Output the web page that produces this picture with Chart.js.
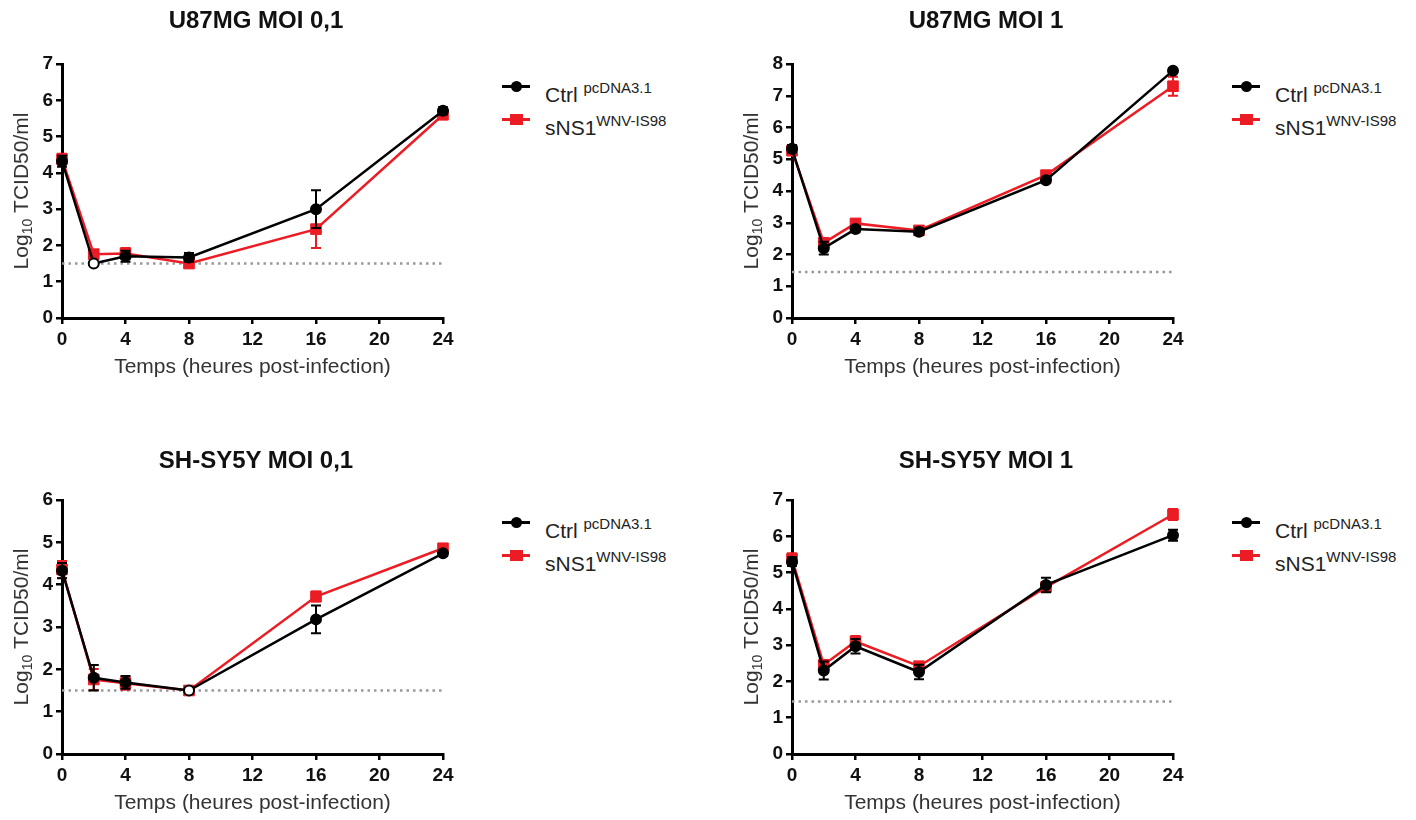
<!DOCTYPE html>
<html>
<head>
<meta charset="utf-8">
<script src="https://cdn.jsdelivr.net/npm/chart.js@4.4.1/dist/chart.umd.min.js"></script>
<style>
  body { margin: 0; background: #fff; font-family: "Liberation Sans", Arial, sans-serif; }
  #wrap { position: relative; width: 1416px; height: 820px; overflow: hidden; }
  canvas { position: absolute; }
  .ttl { position: absolute; width: 400px; text-align: center; font-weight: bold; font-size: 24px; line-height: 28px; color: #111; }
  .leg { position: absolute; font-size: 21px; color: #222; }
  .row { position: relative; height: 33px; line-height: 32px; padding-left: 43px; white-space: nowrap; }
  .row sup { font-size: 15px; position: relative; top: -1px; }
  .ln { position: absolute; left: 0; top: 11.5px; width: 28px; height: 3px; }
  .mk { position: absolute; left: 8.5px; top: 7.5px; width: 11px; height: 11px; }
  .blk .ln, .blk .mk { background: #000; }
  .blk .mk { border-radius: 50%; }
  .red .ln, .red .mk { background: #ec1c24; }
  .red .mk { left: 7.5px; width: 13px; height: 11px; }
</style>
</head>
<body>
<div id="wrap">
  <canvas id="c1" width="480" height="380" style="left:0;top:0"></canvas>
  <canvas id="c2" width="480" height="380" style="left:730px;top:0"></canvas>
  <canvas id="c3" width="480" height="380" style="left:0;top:436px"></canvas>
  <canvas id="c4" width="480" height="380" style="left:730px;top:436px"></canvas>

  <div class="ttl" style="left:56px;top:6px">U87MG MOI 0,1</div>
  <div class="ttl" style="left:786px;top:6px">U87MG MOI 1</div>
  <div class="ttl" style="left:56px;top:446px">SH-SY5Y MOI 0,1</div>
  <div class="ttl" style="left:786px;top:446px">SH-SY5Y MOI 1</div>

  <div class="leg" style="left:502px;top:73px">
    <div class="row blk"><span class="ln"></span><span class="mk"></span>Ctrl <sup>pcDNA3.1</sup></div>
    <div class="row red"><span class="ln"></span><span class="mk"></span>sNS1<sup>WNV-IS98</sup></div>
  </div>
  <div class="leg" style="left:1232px;top:73px">
    <div class="row blk"><span class="ln"></span><span class="mk"></span>Ctrl <sup>pcDNA3.1</sup></div>
    <div class="row red"><span class="ln"></span><span class="mk"></span>sNS1<sup>WNV-IS98</sup></div>
  </div>
  <div class="leg" style="left:502px;top:509px">
    <div class="row blk"><span class="ln"></span><span class="mk"></span>Ctrl <sup>pcDNA3.1</sup></div>
    <div class="row red"><span class="ln"></span><span class="mk"></span>sNS1<sup>WNV-IS98</sup></div>
  </div>
  <div class="leg" style="left:1232px;top:509px">
    <div class="row blk"><span class="ln"></span><span class="mk"></span>Ctrl <sup>pcDNA3.1</sup></div>
    <div class="row red"><span class="ln"></span><span class="mk"></span>sNS1<sup>WNV-IS98</sup></div>
  </div>
</div>

<script>
// hours post-infection
const hours = [0, 2, 4, 8, 16, 24];

// U87MG MOI 0,1
const u87Low_ctrl = [4.32, 1.5, 1.7, 1.67, 3.0, 5.71];
const u87Low_ctrlErr = [0.15, 0.03, 0.15, 0.12, 0.52, 0.1];
const u87Low_sns1 = [4.38, 1.76, 1.78, 1.5, 2.45, 5.6];
const u87Low_sns1Err = [0.15, 0.1, 0.15, 0.05, 0.52, 0.05];

// U87MG MOI 1
const u87High_ctrl = [5.33, 2.2, 2.8, 2.72, 4.34, 7.79];
const u87High_ctrlErr = [0.12, 0.2, 0.1, 0.1, 0.08, 0.05];
const u87High_sns1 = [5.27, 2.37, 2.98, 2.76, 4.5, 7.3];
const u87High_sns1Err = [0.12, 0.1, 0.1, 0.12, 0.08, 0.3];

// SH-SY5Y MOI 0,1
const shLow_ctrl = [4.33, 1.8, 1.69, 1.5, 3.18, 4.74];
const shLow_ctrlErr = [0.18, 0.3, 0.15, 0.05, 0.33, 0.05];
const shLow_sns1 = [4.36, 1.76, 1.67, 1.5, 3.72, 4.86];
const shLow_sns1Err = [0.2, 0.25, 0.15, 0.05, 0.12, 0.06];

// SH-SY5Y MOI 1
const shHigh_ctrl = [5.3, 2.3, 2.97, 2.26, 4.66, 6.03];
const shHigh_ctrlErr = [0.12, 0.25, 0.2, 0.2, 0.2, 0.15];
const shHigh_sns1 = [5.38, 2.46, 3.1, 2.42, 4.6, 6.6];
const shHigh_sns1Err = [0.15, 0.12, 0.15, 0.1, 0.12, 0.15];

// detection limits (dotted line) and y max per panel
const lods = [1.5, 1.45, 1.5, 1.45];
const yMax = [7, 8, 6, 7];

const RED = '#ec1c24';
const FONT = '"Liberation Sans", Arial, sans-serif';

const pts = (vals) => vals.map((v, i) => ({ x: hours[i], y: v }));

// error bars, drawn just before their own dataset
const errorBars = {
  id: 'errorBars',
  beforeDatasetDraw(chart, args) {
    const ds = chart.data.datasets[args.index];
    if (!ds.errors) return;
    const xs = chart.scales.x, ys = chart.scales.y;
    const ctx = chart.ctx;
    ctx.save();
    ctx.strokeStyle = ds.borderColor;
    ctx.lineWidth = 2;
    ds.data.forEach((p, i) => {
      const e = ds.errors[i];
      const x = xs.getPixelForValue(p.x);
      const t = ys.getPixelForValue(p.y + e);
      const b = ys.getPixelForValue(p.y - e);
      ctx.beginPath();
      ctx.moveTo(x, t); ctx.lineTo(x, b);
      ctx.moveTo(x - 5, t); ctx.lineTo(x + 5, t);
      ctx.moveTo(x - 5, b); ctx.lineTo(x + 5, b);
      ctx.stroke();
    });
    ctx.restore();
  }
};

// rotated y title with subscript
const yTitle = {
  id: 'yTitle',
  afterDraw(chart) {
    const { ctx, chartArea } = chart;
    const cy = (chartArea.top + chartArea.bottom) / 2;
    const big = '21px ' + FONT, small = '14px ' + FONT;
    ctx.save();
    ctx.translate(28, cy);
    ctx.rotate(-Math.PI / 2);
    ctx.fillStyle = '#333';
    ctx.textBaseline = 'alphabetic';
    ctx.font = big;
    const w1 = ctx.measureText('Log').width;
    const w3 = ctx.measureText(' TCID50/ml').width;
    ctx.font = small;
    const w2 = ctx.measureText('10').width;
    let x = -(w1 + w2 + w3) / 2;
    ctx.font = big;
    ctx.fillText('Log', x, 0);
    x += w1;
    ctx.font = small;
    ctx.fillText('10', x, 4);
    x += w2;
    ctx.font = big;
    ctx.fillText(' TCID50/ml', x, 0);
    ctx.restore();
  }
};

function makeChart(id, ctrl, ctrlErr, sns1, sns1Err, lod, ymax) {
  new Chart(document.getElementById(id), {
    type: 'line',
    data: {
      datasets: [
        {
          label: 'Ctrl',
          data: pts(ctrl),
          errors: ctrlErr,
          clip: false,
          borderColor: '#000',
          borderWidth: 2.5,
          pointStyle: 'circle',
          pointRadius: 5,
          pointBorderWidth: 2,
          pointBorderColor: '#000',
          pointBackgroundColor: (c) => (c.raw && c.raw.y <= lod + 0.001) ? '#fff' : '#000',
          tension: 0
        },
        {
          label: 'sNS1',
          data: pts(sns1),
          errors: sns1Err,
          clip: false,
          borderColor: RED,
          borderWidth: 2.5,
          pointStyle: 'rect',
          pointRadius: 7.5,
          pointBorderWidth: 1,
          pointBorderColor: RED,
          pointBackgroundColor: RED,
          tension: 0
        },
        {
          label: 'LOD',
          data: [{ x: 0, y: lod }, { x: 24, y: lod }],
          borderColor: '#999',
          borderWidth: 2.5,
          borderDash: [2.5, 4],
          pointRadius: 0
        }
      ]
    },
    options: {
      responsive: false,
      animation: false,
      layout: { padding: { top: 64, right: 37, left: 0, bottom: 0 } },
      plugins: { legend: { display: false }, tooltip: { enabled: false } },
      scales: {
        x: {
          type: 'linear',
          min: 0, max: 24,
          afterFit: (s) => { s.height = 62; },
          ticks: { stepSize: 4, color: '#111', padding: 4, font: { family: FONT, size: 19, weight: 'bold' } },
          grid: { drawOnChartArea: false, drawTicks: true, tickLength: 6, color: '#000', lineWidth: 2.5 },
          border: { color: '#000', width: 3 },
          title: { display: true, text: 'Temps (heures post-infection)', color: '#333', padding: { top: 0, bottom: 0 }, font: { family: FONT, size: 21 } }
        },
        y: {
          min: 0, max: ymax,
          afterFit: (s) => { s.width = 62; },
          ticks: { stepSize: 1, color: '#111', padding: 3, font: { family: FONT, size: 19, weight: 'bold' } },
          grid: { drawOnChartArea: false, drawTicks: true, tickLength: 6, color: '#000', lineWidth: 2.5 },
          border: { color: '#000', width: 3 }
        }
      }
    },
    plugins: [errorBars, yTitle]
  });
}

makeChart('c1', u87Low_ctrl, u87Low_ctrlErr, u87Low_sns1, u87Low_sns1Err, lods[0], yMax[0]);
makeChart('c2', u87High_ctrl, u87High_ctrlErr, u87High_sns1, u87High_sns1Err, lods[1], yMax[1]);
makeChart('c3', shLow_ctrl, shLow_ctrlErr, shLow_sns1, shLow_sns1Err, lods[2], yMax[2]);
makeChart('c4', shHigh_ctrl, shHigh_ctrlErr, shHigh_sns1, shHigh_sns1Err, lods[3], yMax[3]);
</script>
</body>
</html>
